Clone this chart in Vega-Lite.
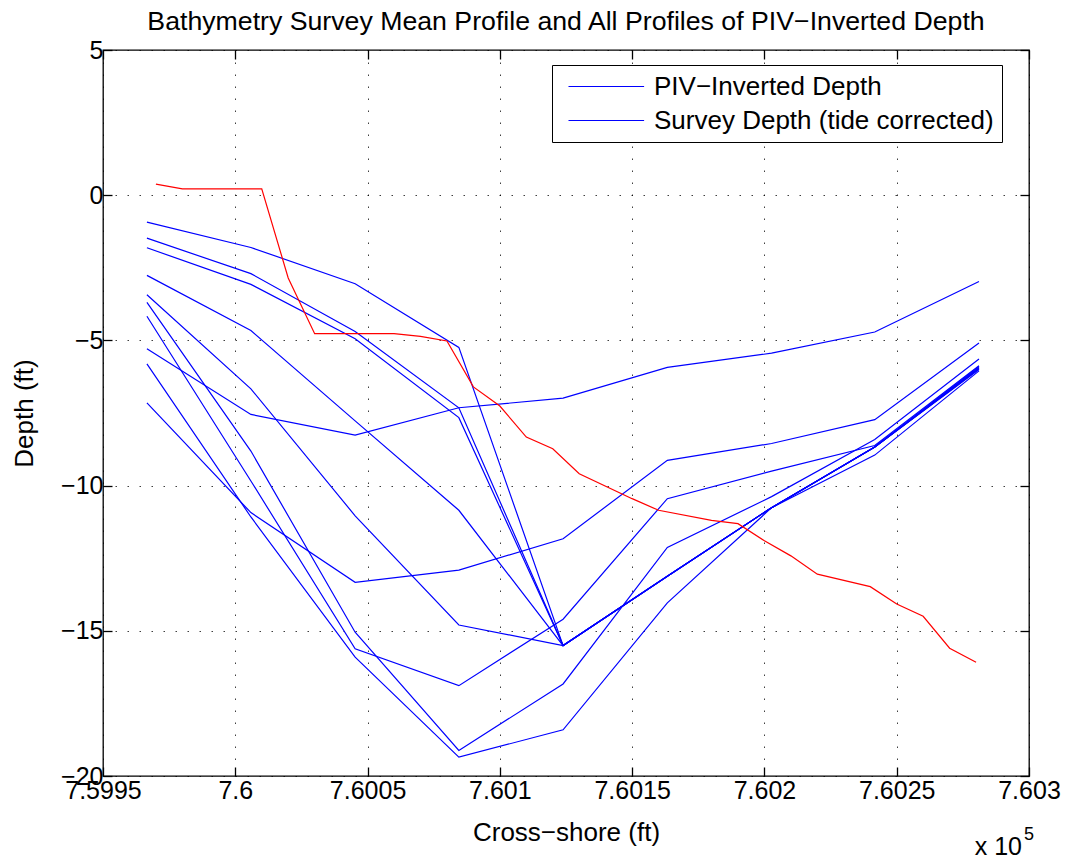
{
  "$schema": "https://vega.github.io/schema/vega-lite/v6.json",
  "width": 926,
  "height": 726,
  "autosize": {"type": "none"},
  "padding": {"left": 103, "top": 50, "right": 44, "bottom": 87},
  "background": "white",
  "datasets": {
    "profiles": [
      {"profile": "A", "x": 759966.6, "depth": -0.93}, {"profile": "A", "x": 760005.9, "depth": -1.80}, {"profile": "A", "x": 760045.3, "depth": -3.05}, {"profile": "A", "x": 760084.5, "depth": -5.24}, {"profile": "A", "x": 760123.9, "depth": -15.51}, {"profile": "A", "x": 760163.3, "depth": -13.12}, {"profile": "A", "x": 760202.7, "depth": -10.76}, {"profile": "A", "x": 760241.7, "depth": -8.67}, {"profile": "A", "x": 760281.1, "depth": -5.90},
      {"profile": "B", "x": 759966.6, "depth": -1.48}, {"profile": "B", "x": 760005.9, "depth": -2.70}, {"profile": "B", "x": 760045.3, "depth": -4.69}, {"profile": "B", "x": 760084.5, "depth": -7.32}, {"profile": "B", "x": 760123.9, "depth": -15.51}, {"profile": "B", "x": 760163.3, "depth": -13.12}, {"profile": "B", "x": 760202.7, "depth": -10.76}, {"profile": "B", "x": 760241.7, "depth": -8.67}, {"profile": "B", "x": 760281.1, "depth": -5.93},
      {"profile": "C", "x": 759966.6, "depth": -1.81}, {"profile": "C", "x": 760005.9, "depth": -3.07}, {"profile": "C", "x": 760045.3, "depth": -4.94}, {"profile": "C", "x": 760084.5, "depth": -7.66}, {"profile": "C", "x": 760123.9, "depth": -15.51}, {"profile": "C", "x": 760163.3, "depth": -13.12}, {"profile": "C", "x": 760202.7, "depth": -10.76}, {"profile": "C", "x": 760241.7, "depth": -8.67}, {"profile": "C", "x": 760281.1, "depth": -5.96},
      {"profile": "D", "x": 759966.6, "depth": -2.76}, {"profile": "D", "x": 760005.9, "depth": -4.66}, {"profile": "D", "x": 760045.3, "depth": -7.77}, {"profile": "D", "x": 760084.5, "depth": -10.85}, {"profile": "D", "x": 760123.9, "depth": -15.51}, {"profile": "D", "x": 760163.3, "depth": -13.12}, {"profile": "D", "x": 760202.7, "depth": -10.76}, {"profile": "D", "x": 760241.7, "depth": -8.67}, {"profile": "D", "x": 760281.1, "depth": -5.98},
      {"profile": "E", "x": 759966.6, "depth": -3.43}, {"profile": "E", "x": 760005.9, "depth": -6.67}, {"profile": "E", "x": 760045.3, "depth": -11.04}, {"profile": "E", "x": 760084.5, "depth": -14.80}, {"profile": "E", "x": 760123.9, "depth": -15.51}, {"profile": "E", "x": 760163.3, "depth": -13.12}, {"profile": "E", "x": 760202.7, "depth": -10.76}, {"profile": "E", "x": 760241.7, "depth": -8.67}, {"profile": "E", "x": 760281.1, "depth": -6.00},
      {"profile": "F", "x": 759966.6, "depth": -3.69}, {"profile": "F", "x": 760005.9, "depth": -8.81}, {"profile": "F", "x": 760045.3, "depth": -15.05}, {"profile": "F", "x": 760084.5, "depth": -19.12}, {"profile": "F", "x": 760123.9, "depth": -16.83}, {"profile": "F", "x": 760163.3, "depth": -12.13}, {"profile": "F", "x": 760202.7, "depth": -10.38}, {"profile": "F", "x": 760241.7, "depth": -8.41}, {"profile": "F", "x": 760281.1, "depth": -5.64},
      {"profile": "G", "x": 759966.6, "depth": -4.17}, {"profile": "G", "x": 760005.9, "depth": -9.84}, {"profile": "G", "x": 760045.3, "depth": -15.62}, {"profile": "G", "x": 760084.5, "depth": -16.89}, {"profile": "G", "x": 760123.9, "depth": -14.60}, {"profile": "G", "x": 760163.3, "depth": -10.45}, {"profile": "G", "x": 760202.7, "depth": -9.50}, {"profile": "G", "x": 760241.7, "depth": -8.62}, {"profile": "G", "x": 760281.1, "depth": -5.87},
      {"profile": "H", "x": 759966.6, "depth": -5.29}, {"profile": "H", "x": 760005.9, "depth": -7.55}, {"profile": "H", "x": 760045.3, "depth": -8.26}, {"profile": "H", "x": 760084.5, "depth": -7.32}, {"profile": "H", "x": 760123.9, "depth": -6.99}, {"profile": "H", "x": 760163.3, "depth": -5.93}, {"profile": "H", "x": 760202.7, "depth": -5.44}, {"profile": "H", "x": 760241.7, "depth": -4.71}, {"profile": "H", "x": 760281.1, "depth": -2.97},
      {"profile": "I", "x": 759966.6, "depth": -5.81}, {"profile": "I", "x": 760005.9, "depth": -11.08}, {"profile": "I", "x": 760045.3, "depth": -15.91}, {"profile": "I", "x": 760084.5, "depth": -19.35}, {"profile": "I", "x": 760123.9, "depth": -18.41}, {"profile": "I", "x": 760163.3, "depth": -14.04}, {"profile": "I", "x": 760202.7, "depth": -10.76}, {"profile": "I", "x": 760241.7, "depth": -8.95}, {"profile": "I", "x": 760281.1, "depth": -6.05},
      {"profile": "J", "x": 759966.6, "depth": -7.15}, {"profile": "J", "x": 760005.9, "depth": -10.93}, {"profile": "J", "x": 760045.3, "depth": -13.33}, {"profile": "J", "x": 760084.5, "depth": -12.91}, {"profile": "J", "x": 760123.9, "depth": -11.83}, {"profile": "J", "x": 760163.3, "depth": -9.13}, {"profile": "J", "x": 760202.7, "depth": -8.55}, {"profile": "J", "x": 760241.7, "depth": -7.73}, {"profile": "J", "x": 760281.1, "depth": -5.09}
    ],
    "survey": [
      {"x": 759970, "depth": 0.38}, {"x": 759980, "depth": 0.22}, {"x": 760010, "depth": 0.22}, {"x": 760020, "depth": -2.85}, {"x": 760030, "depth": -4.77}, {"x": 760060, "depth": -4.77}, {"x": 760070, "depth": -4.86}, {"x": 760080, "depth": -5.02}, {"x": 760090, "depth": -6.6}, {"x": 760100, "depth": -7.26}, {"x": 760110, "depth": -8.33}, {"x": 760120, "depth": -8.73}, {"x": 760130, "depth": -9.59}, {"x": 760150, "depth": -10.45}, {"x": 760160, "depth": -10.85}, {"x": 760180, "depth": -11.2}, {"x": 760190, "depth": -11.31}, {"x": 760200, "depth": -11.9}, {"x": 760210, "depth": -12.42}, {"x": 760220, "depth": -13.05}, {"x": 760240, "depth": -13.48}, {"x": 760250, "depth": -14.08}, {"x": 760260, "depth": -14.5}, {"x": 760270, "depth": -15.6}, {"x": 760280, "depth": -16.08}
    ],
    "multiplier": [{"base": "x 10", "exp": "5"}]
  },
  "config": {
    "view": {"stroke": "black", "strokeWidth": 1.3},
    "font": "Liberation Sans",
    "axis": {
      "labelFont": "Liberation Sans",
      "labelFontSize": 25,
      "labelColor": "black",
      "labelFlush": false,
      "labelOverlap": false,
      "titleFont": "Liberation Sans",
      "titleFontSize": 26,
      "titleFontWeight": "normal",
      "titleColor": "black",
      "tickColor": "black",
      "tickWidth": 1.3,
      "tickSize": -9,
      "domain": false,
      "gridColor": "black",
      "gridDash": [1.5, 10.5],
      "gridOpacity": 0.75,
      "gridWidth": 1
    }
  },
  "title": {
    "text": "Bathymetry Survey Mean Profile and All Profiles of PIV−Inverted Depth",
    "font": "Liberation Sans",
    "fontSize": 26.7,
    "fontWeight": "normal",
    "color": "black",
    "anchor": "middle",
    "frame": "group",
    "offset": 2
  },
  "layer": [
    {
      "data": {"name": "profiles"},
      "mark": {"type": "line", "strokeWidth": 1.2},
      "encoding": {
        "x": {
          "field": "x", "type": "quantitative",
          "scale": {"domain": [759950, 760300], "nice": false, "zero": false},
          "axis": {
            "orient": "bottom",
            "values": [759950, 760000, 760050, 760100, 760150, 760200, 760250, 760300],
            "labelExpr": "format(datum.value / 100000, '~g')",
            "grid": true,
            "labelPadding": 11,
            "title": "Cross−shore (ft)",
            "titlePadding": 16
          }
        },
        "y": {
          "field": "depth", "type": "quantitative",
          "scale": {"domain": [-20, 5], "nice": false, "zero": false},
          "axis": {
            "orient": "left",
            "values": [-20, -15, -10, -5, 0, 5],
            "grid": true,
            "labelPadding": 9,
            "title": "Depth (ft)",
            "titlePadding": 23
          }
        },
        "detail": {"field": "profile"},
        "color": {
          "datum": "PIV−Inverted Depth",
          "type": "nominal",
          "scale": {"domain": ["PIV−Inverted Depth", "Survey Depth (tide corrected)"], "range": ["#0000ff", "#0000ff"]},
          "legend": {
            "title": null,
            "orient": "none",
            "legendX": 449,
            "legendY": 15,
            "symbolType": "M-0.4,0H5.648",
            "symbolSize": 625,
            "symbolStrokeWidth": 1.2,
            "symbolStrokeColor": "#0000ff",
            "labelFont": "Liberation Sans",
            "labelFontSize": 26,
            "labelColor": "black",
            "labelLimit": 700,
            "labelOffset": 67,
            "strokeColor": "black",
            "fillColor": "white",
            "padding": 8,
            "rowPadding": 7
          }
        }
      }
    },
    {
      "data": {"name": "survey"},
      "mark": {"type": "line", "strokeWidth": 1.2, "color": "#ff0000"},
      "encoding": {
        "x": {
          "field": "x", "type": "quantitative",
          "scale": {"domain": [759950, 760300], "nice": false, "zero": false},
          "axis": {"orient": "top", "values": [759950, 760000, 760050, 760100, 760150, 760200, 760250, 760300], "labels": false, "grid": false, "title": null}
        },
        "y": {
          "field": "depth", "type": "quantitative",
          "scale": {"domain": [-20, 5], "nice": false, "zero": false},
          "axis": {"orient": "right", "values": [-20, -15, -10, -5, 0, 5], "labels": false, "grid": false, "title": null}
        }
      }
    },
    {
      "data": {"name": "multiplier"},
      "mark": {"type": "text", "align": "right", "baseline": "alphabetic", "fontSize": 25, "font": "Liberation Sans", "color": "black", "dx": -7, "dy": 79},
      "encoding": {
        "x": {"datum": 760300, "type": "quantitative", "axis": null},
        "y": {"datum": -20, "type": "quantitative", "axis": null},
        "text": {"field": "base"}
      }
    },
    {
      "data": {"name": "multiplier"},
      "mark": {"type": "text", "align": "left", "baseline": "alphabetic", "fontSize": 18, "font": "Liberation Sans", "color": "black", "dx": -5, "dy": 64},
      "encoding": {
        "x": {"datum": 760300, "type": "quantitative", "axis": null},
        "y": {"datum": -20, "type": "quantitative", "axis": null},
        "text": {"field": "exp"}
      }
    }
  ],
  "resolve": {"axis": {"x": "independent", "y": "independent"}}
}
